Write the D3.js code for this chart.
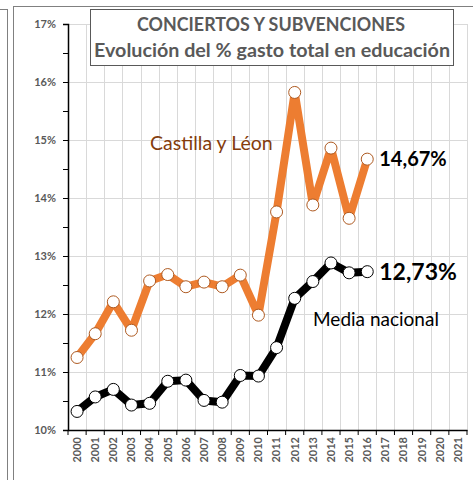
<!DOCTYPE html>
<html>
<head>
<meta charset="utf-8">
<script src="https://cdn.jsdelivr.net/npm/d3@7"></script>
<style>
  body { margin: 0; background: #fff; }
  svg text { font-family: Lato, "Open Sans", sans-serif; }
</style>
</head>
<body>
<div class="chart"></div>
<script>
// gasto en conciertos y subvenciones, % del gasto total en educacion

var years = ["2000","2001","2002","2003","2004","2005","2006","2007","2008","2009","2010",
  "2011","2012","2013","2014","2015","2016","2017","2018","2019","2020","2021"];

var castillaLeon = [11.25, 11.66, 12.21, 11.72, 12.57, 12.68, 12.47, 12.55, 12.47, 12.67, 11.98,
  13.76, 15.82, 13.88, 14.86, 13.65, 14.67];

var mediaNacional = [10.32, 10.57, 10.70, 10.43, 10.46, 10.84, 10.86, 10.51, 10.48, 10.94, 10.93,
  11.42, 12.27, 12.56, 12.88, 12.71, 12.73];

var yTicks = [10, 11, 12, 13, 14, 15, 16, 17];
var yMinorTicks = [10.5, 11.5, 12.5, 13.5, 14.5, 15.5, 16.5];

var svgWidth = 473;
var svgHeight = 480;

var margin = { top: 24, right: 6, bottom: 50, left: 68 };
var width = svgWidth - margin.left - margin.right;
var height = svgHeight - margin.top - margin.bottom;

var svg = d3.select(".chart")
  .append("svg")
  .attr("width", svgWidth)
  .attr("height", svgHeight);

// frame lines of the sheet
svg.append("line").attr("x1", 7.5).attr("x2", 7.5).attr("y1", 9).attr("y2", svgHeight)
  .attr("stroke", "#808080").attr("stroke-width", 1);
svg.append("line").attr("x1", 0).attr("x2", 7.5).attr("y1", 9.5).attr("y2", 9.5)
  .attr("stroke", "#808080").attr("stroke-width", 1);
svg.append("line").attr("x1", 13.5).attr("x2", 13.5).attr("y1", 6).attr("y2", svgHeight)
  .attr("stroke", "#808080").attr("stroke-width", 1);
svg.append("line").attr("x1", 13.5).attr("x2", svgWidth).attr("y1", 6.5).attr("y2", 6.5)
  .attr("stroke", "#808080").attr("stroke-width", 1);

var chartGroup = svg.append("g")
  .attr("transform", `translate(${margin.left}, ${margin.top})`);

var xScale = d3.scaleBand()
  .domain(years)
  .range([0, width]);

var yScale = d3.scaleLinear()
  .domain([10, 17])
  .range([height, 0]);

// gridlines
chartGroup.append("g")
  .selectAll("line.h")
  .data(yTicks.slice(1))
  .enter()
  .append("line")
  .attr("x1", 0)
  .attr("x2", width)
  .attr("y1", d => Math.round(yScale(d)) + 0.5)
  .attr("y2", d => Math.round(yScale(d)) + 0.5)
  .attr("stroke", "#d9d9d9");

chartGroup.append("g")
  .selectAll("line.v")
  .data(years)
  .enter()
  .append("line")
  .attr("x1", d => Math.round(xScale(d) + xScale.bandwidth()) + 0.5)
  .attr("x2", d => Math.round(xScale(d) + xScale.bandwidth()) + 0.5)
  .attr("y1", 0)
  .attr("y2", height)
  .attr("stroke", "#d9d9d9");

// y axis
var leftAxis = d3.axisLeft(yScale)
  .tickValues(yTicks)
  .tickSize(5)
  .tickPadding(7)
  .tickFormat(d => d + "%");

var yAxis = chartGroup.append("g").call(leftAxis);
yAxis.select(".domain").attr("stroke", "#000").attr("stroke-width", 1.5);
yAxis.selectAll("text")
  .attr("fill", "#595959")
  .attr("font-size", 11)
  .attr("font-weight", "bold");

chartGroup.append("g")
  .call(d3.axisLeft(yScale).tickValues(yMinorTicks).tickSize(5).tickFormat(""))
  .select(".domain").remove();

// x axis
var bottomAxis = d3.axisBottom(xScale).tickSize(0).tickPadding(0);
var xAxis = chartGroup.append("g")
  .attr("transform", `translate(0, ${height})`)
  .call(bottomAxis);
xAxis.select(".domain").attr("stroke", "#000").attr("stroke-width", 1.5);
xAxis.selectAll("text")
  .attr("transform", "rotate(-90)")
  .attr("x", -7)
  .attr("y", 0)
  .attr("dy", "0.35em")
  .attr("text-anchor", "end")
  .attr("fill", "#595959")
  .attr("font-size", 11)
  .attr("font-weight", "bold");

// tick marks at band boundaries
chartGroup.append("g")
  .selectAll("line")
  .data([0].concat(years.map(d => xScale(d) + xScale.bandwidth())))
  .enter()
  .append("line")
  .attr("x1", d => d)
  .attr("x2", d => d)
  .attr("y1", height)
  .attr("y2", height + 5)
  .attr("stroke", "#000");

var line = d3.line()
  .x((d, i) => xScale(years[i]) + xScale.bandwidth() / 2)
  .y(d => yScale(d));

function drawSeries(data, color, markerStroke) {
  chartGroup.append("path")
    .datum(data)
    .attr("d", line)
    .attr("fill", "none")
    .attr("stroke", color)
    .attr("stroke-width", 8)
    .attr("stroke-linejoin", "round");

  chartGroup.append("g")
    .selectAll("circle")
    .data(data)
    .enter()
    .append("circle")
    .attr("cx", (d, i) => xScale(years[i]) + xScale.bandwidth() / 2)
    .attr("cy", d => yScale(d))
    .attr("r", 6)
    .attr("fill", "#fff")
    .attr("stroke", markerStroke)
    .attr("stroke-width", 1);
}

drawSeries(castillaLeon, "#ed7d31", "#ae5a21");
drawSeries(mediaNacional, "#000", "#000");

// series labels
var lastIdx = castillaLeon.length - 1;
var labelX = xScale(years[lastIdx]) + xScale.bandwidth() / 2 + 12;

chartGroup.append("text")
  .attr("x", labelX)
  .attr("y", yScale(castillaLeon[lastIdx]) + 7)
  .attr("font-size", 20)
  .attr("font-weight", "bold")
  .attr("fill", "#000")
  .text(castillaLeon[lastIdx].toFixed(2).replace(".", ",") + "%");

chartGroup.append("text")
  .attr("x", labelX)
  .attr("y", yScale(mediaNacional[lastIdx]) + 8)
  .attr("font-size", 23)
  .attr("font-weight", "bold")
  .attr("fill", "#000")
  .text(mediaNacional[lastIdx].toFixed(2).replace(".", ",") + "%");

chartGroup.append("text")
  .attr("x", 150 - margin.left)
  .attr("y", 150 - margin.top)
  .attr("font-size", 19.5)
  .attr("fill", "#843c0c")
  .text("Castilla y Léon");

chartGroup.append("text")
  .attr("x", 313 - margin.left)
  .attr("y", 326 - margin.top)
  .attr("font-size", 19)
  .attr("fill", "#000")
  .text("Media nacional");

// title box
var titleGroup = svg.append("g");
titleGroup.append("rect")
  .attr("x", 90.5)
  .attr("y", 9.5)
  .attr("width", 363)
  .attr("height", 56)
  .attr("fill", "#fff")
  .attr("stroke", "#595959")
  .attr("stroke-width", 1);

titleGroup.append("text")
  .attr("x", 137)
  .attr("y", 31)
  .attr("textLength", 268)
  .attr("lengthAdjust", "spacingAndGlyphs")
  .attr("font-size", 18)
  .attr("font-weight", "bold")
  .attr("fill", "#595959")
  .text("CONCIERTOS Y SUBVENCIONES");

titleGroup.append("text")
  .attr("x", 94)
  .attr("y", 57)
  .attr("textLength", 356)
  .attr("lengthAdjust", "spacingAndGlyphs")
  .attr("font-size", 19)
  .attr("font-weight", "bold")
  .attr("fill", "#595959")
  .text("Evolución del % gasto total en educación");
</script>
</body>
</html>
